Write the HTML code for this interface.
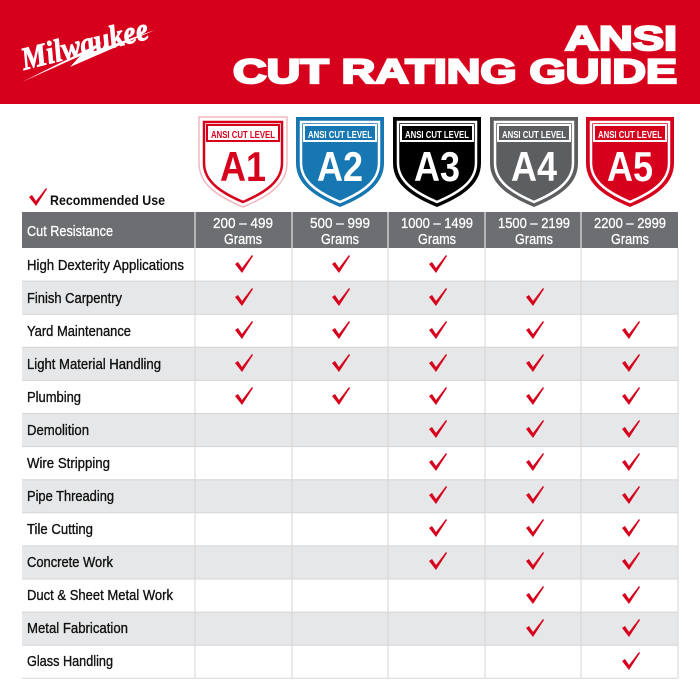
<!DOCTYPE html>
<html><head><meta charset="utf-8"><style>html,body{margin:0;padding:0;background:#fff}svg{display:block}</style></head>
<body>
<svg width="700" height="700" viewBox="0 0 700 700" xmlns="http://www.w3.org/2000/svg" font-family="Liberation Sans, sans-serif">
<rect x="0" y="0" width="700" height="104" fill="#d7001c"/>
<!-- logo -->
<g transform="translate(24,70) rotate(-14)" fill="#fff">
<text x="0" y="0" font-size="32" font-weight="bold" font-style="italic" font-family="Liberation Serif, serif" stroke="#fff" stroke-width="0.8" textLength="130" lengthAdjust="spacingAndGlyphs">Milwaukee</text>
</g>
<polygon points="22,110 80,84 70,95 155,58 92,80 102,70" fill="#fff" transform="translate(0,-28)"/>
<text x="677" y="50" text-anchor="end" font-size="34" font-weight="bold" fill="#fff" stroke="#fff" stroke-width="2.2" textLength="112" lengthAdjust="spacingAndGlyphs">ANSI</text>
<text x="233" y="83" font-size="34" font-weight="bold" fill="#fff" stroke="#fff" stroke-width="2.2" textLength="444" lengthAdjust="spacingAndGlyphs">CUT RATING GUIDE</text>

<defs>
<path id="sh" d="M0,0 H88 V46 C88,68 68,80 44,90 C20,80 0,68 0,46 Z"/>
<path id="shi" d="M5,5 H83 V46 C83,65 65,76 44,85 C23,76 5,65 5,46 Z"/>
<path id="ck" d="M-9,-1 L-6,-3 L-2,3 L8,-10 L9,-9 L-2,8 Z"/>
</defs>
<!-- shields -->
<g transform="translate(199,117)">
<use href="#sh" fill="#fff" stroke="#f0b8bf" stroke-width="1.5"/>
<use href="#shi" fill="#fff" stroke="#d7001c" stroke-width="2.5"/>
<rect x="8" y="8" width="72" height="16" fill="none" stroke="#d7001c" stroke-width="2"/>
<text x="44" y="21" text-anchor="middle" font-size="10.5" font-weight="bold" fill="#d7001c" textLength="64" lengthAdjust="spacingAndGlyphs">ANSI CUT LEVEL</text>
<text x="44" y="64" text-anchor="middle" font-size="42" font-weight="bold" fill="#d7001c" textLength="46" lengthAdjust="spacingAndGlyphs">A1</text>
</g>
<g transform="translate(296,117)">
<use href="#sh" fill="#1677b3"/><use href="#shi" fill="#1677b3" stroke="#fff" stroke-width="2.5"/>
<rect x="8" y="8" width="72" height="16" fill="none" stroke="#fff" stroke-width="2"/>
<text x="44" y="21" text-anchor="middle" font-size="10.5" font-weight="bold" fill="#fff" textLength="64" lengthAdjust="spacingAndGlyphs">ANSI CUT LEVEL</text>
<text x="44" y="64" text-anchor="middle" font-size="42" font-weight="bold" fill="#fff" textLength="46" lengthAdjust="spacingAndGlyphs">A2</text>
</g>
<g transform="translate(393,117)">
<use href="#sh" fill="#000"/><use href="#shi" fill="#000" stroke="#fff" stroke-width="2.5"/>
<rect x="8" y="8" width="72" height="16" fill="none" stroke="#fff" stroke-width="2"/>
<text x="44" y="21" text-anchor="middle" font-size="10.5" font-weight="bold" fill="#fff" textLength="64" lengthAdjust="spacingAndGlyphs">ANSI CUT LEVEL</text>
<text x="44" y="64" text-anchor="middle" font-size="42" font-weight="bold" fill="#fff" textLength="46" lengthAdjust="spacingAndGlyphs">A3</text>
</g>
<g transform="translate(490,117)">
<use href="#sh" fill="#5d5e60"/><use href="#shi" fill="#5d5e60" stroke="#fff" stroke-width="2.5"/>
<rect x="8" y="8" width="72" height="16" fill="none" stroke="#fff" stroke-width="2"/>
<text x="44" y="21" text-anchor="middle" font-size="10.5" font-weight="bold" fill="#fff" textLength="64" lengthAdjust="spacingAndGlyphs">ANSI CUT LEVEL</text>
<text x="44" y="64" text-anchor="middle" font-size="42" font-weight="bold" fill="#fff" textLength="46" lengthAdjust="spacingAndGlyphs">A4</text>
</g>
<g transform="translate(586,117)">
<use href="#sh" fill="#d7001c"/><use href="#shi" fill="#d7001c" stroke="#fff" stroke-width="2.5"/>
<rect x="8" y="8" width="72" height="16" fill="none" stroke="#fff" stroke-width="2"/>
<text x="44" y="21" text-anchor="middle" font-size="10.5" font-weight="bold" fill="#fff" textLength="64" lengthAdjust="spacingAndGlyphs">ANSI CUT LEVEL</text>
<text x="44" y="64" text-anchor="middle" font-size="42" font-weight="bold" fill="#fff" textLength="46" lengthAdjust="spacingAndGlyphs">A5</text>
</g>

<use href="#ck" x="38" y="198" fill="#d7001c"/>
<text x="50" y="205" font-size="14" font-weight="bold" fill="#111" textLength="115" lengthAdjust="spacingAndGlyphs">Recommended Use</text>

<!-- header row -->
<rect x="22" y="212" width="656" height="36" fill="#6d6e71"/>
<g stroke="#cfcfd0" stroke-width="1.5">
<line x1="195" y1="212" x2="195" y2="248"/><line x1="292" y1="212" x2="292" y2="248"/><line x1="388" y1="212" x2="388" y2="248"/><line x1="485" y1="212" x2="485" y2="248"/><line x1="581" y1="212" x2="581" y2="248"/>
</g>
<g fill="#fff" font-size="15" text-anchor="middle" stroke="#fff" stroke-width="0.3">
<text x="27" y="236" text-anchor="start" textLength="86" lengthAdjust="spacingAndGlyphs">Cut Resistance</text>
<text x="243" y="228" textLength="60" lengthAdjust="spacingAndGlyphs">200 – 499</text><text x="243" y="244" textLength="38" lengthAdjust="spacingAndGlyphs">Grams</text>
<text x="340" y="228" textLength="60" lengthAdjust="spacingAndGlyphs">500 – 999</text><text x="340" y="244" textLength="38" lengthAdjust="spacingAndGlyphs">Grams</text>
<text x="437" y="228" textLength="72" lengthAdjust="spacingAndGlyphs">1000 – 1499</text><text x="437" y="244" textLength="38" lengthAdjust="spacingAndGlyphs">Grams</text>
<text x="534" y="228" textLength="72" lengthAdjust="spacingAndGlyphs">1500 – 2199</text><text x="534" y="244" textLength="38" lengthAdjust="spacingAndGlyphs">Grams</text>
<text x="630" y="228" textLength="72" lengthAdjust="spacingAndGlyphs">2200 – 2999</text><text x="630" y="244" textLength="38" lengthAdjust="spacingAndGlyphs">Grams</text>
</g>

<!-- body rows -->
<g fill="#e6e7e8">
<rect x="22" y="281.1" width="656" height="33.1"/>
<rect x="22" y="347.3" width="656" height="33.1"/>
<rect x="22" y="413.5" width="656" height="33.1"/>
<rect x="22" y="479.7" width="656" height="33.1"/>
<rect x="22" y="545.9" width="656" height="33.1"/>
<rect x="22" y="612.1" width="656" height="33.1"/>
</g>
<g stroke="#d5d5d6" stroke-width="1">
<line x1="22" y1="281.1" x2="678" y2="281.1"/><line x1="22" y1="314.2" x2="678" y2="314.2"/><line x1="22" y1="347.3" x2="678" y2="347.3"/><line x1="22" y1="380.4" x2="678" y2="380.4"/><line x1="22" y1="413.5" x2="678" y2="413.5"/><line x1="22" y1="446.6" x2="678" y2="446.6"/><line x1="22" y1="479.7" x2="678" y2="479.7"/><line x1="22" y1="512.8" x2="678" y2="512.8"/><line x1="22" y1="545.9" x2="678" y2="545.9"/><line x1="22" y1="579" x2="678" y2="579"/><line x1="22" y1="612.1" x2="678" y2="612.1"/><line x1="22" y1="645.2" x2="678" y2="645.2"/><line x1="22" y1="678.3" x2="678" y2="678.3"/>
<line x1="195" y1="248" x2="195" y2="678"/><line x1="292" y1="248" x2="292" y2="678"/><line x1="388" y1="248" x2="388" y2="678"/><line x1="485" y1="248" x2="485" y2="678"/><line x1="581" y1="248" x2="581" y2="678"/><line x1="678" y1="248" x2="678" y2="678"/>
</g>
<g fill="#111" font-size="15" stroke="#111" stroke-width="0.35">
<text x="27" y="270" textLength="157" lengthAdjust="spacingAndGlyphs">High Dexterity Applications</text>
<text x="27" y="303" textLength="95" lengthAdjust="spacingAndGlyphs">Finish Carpentry</text>
<text x="27" y="336" textLength="104" lengthAdjust="spacingAndGlyphs">Yard Maintenance</text>
<text x="27" y="369" textLength="134" lengthAdjust="spacingAndGlyphs">Light Material Handling</text>
<text x="27" y="402" textLength="54" lengthAdjust="spacingAndGlyphs">Plumbing</text>
<text x="27" y="435" textLength="62" lengthAdjust="spacingAndGlyphs">Demolition</text>
<text x="27" y="468" textLength="83" lengthAdjust="spacingAndGlyphs">Wire Stripping</text>
<text x="27" y="501" textLength="87" lengthAdjust="spacingAndGlyphs">Pipe Threading</text>
<text x="27" y="534" textLength="66" lengthAdjust="spacingAndGlyphs">Tile Cutting</text>
<text x="27" y="567" textLength="86" lengthAdjust="spacingAndGlyphs">Concrete Work</text>
<text x="27" y="600" textLength="146" lengthAdjust="spacingAndGlyphs">Duct &amp; Sheet Metal Work</text>
<text x="27" y="633" textLength="101" lengthAdjust="spacingAndGlyphs">Metal Fabrication</text>
<text x="27" y="666" textLength="86" lengthAdjust="spacingAndGlyphs">Glass Handling</text>
</g>
<g fill="#d7001c">
<use href="#ck" x="244" y="265"/><use href="#ck" x="341" y="265"/><use href="#ck" x="438" y="265"/>
<use href="#ck" x="244" y="298"/><use href="#ck" x="341" y="298"/><use href="#ck" x="438" y="298"/><use href="#ck" x="535" y="298"/>
<use href="#ck" x="244" y="331"/><use href="#ck" x="341" y="331"/><use href="#ck" x="438" y="331"/><use href="#ck" x="535" y="331"/><use href="#ck" x="631" y="331"/>
<use href="#ck" x="244" y="364"/><use href="#ck" x="341" y="364"/><use href="#ck" x="438" y="364"/><use href="#ck" x="535" y="364"/><use href="#ck" x="631" y="364"/>
<use href="#ck" x="244" y="397"/><use href="#ck" x="341" y="397"/><use href="#ck" x="438" y="397"/><use href="#ck" x="535" y="397"/><use href="#ck" x="631" y="397"/>
<use href="#ck" x="438" y="430"/><use href="#ck" x="535" y="430"/><use href="#ck" x="631" y="430"/>
<use href="#ck" x="438" y="463"/><use href="#ck" x="535" y="463"/><use href="#ck" x="631" y="463"/>
<use href="#ck" x="438" y="496"/><use href="#ck" x="535" y="496"/><use href="#ck" x="631" y="496"/>
<use href="#ck" x="438" y="529"/><use href="#ck" x="535" y="529"/><use href="#ck" x="631" y="529"/>
<use href="#ck" x="438" y="562"/><use href="#ck" x="535" y="562"/><use href="#ck" x="631" y="562"/>
<use href="#ck" x="535" y="596"/><use href="#ck" x="631" y="596"/>
<use href="#ck" x="535" y="629"/><use href="#ck" x="631" y="629"/>
<use href="#ck" x="631" y="662"/>
</g>
</svg>
</body></html>
